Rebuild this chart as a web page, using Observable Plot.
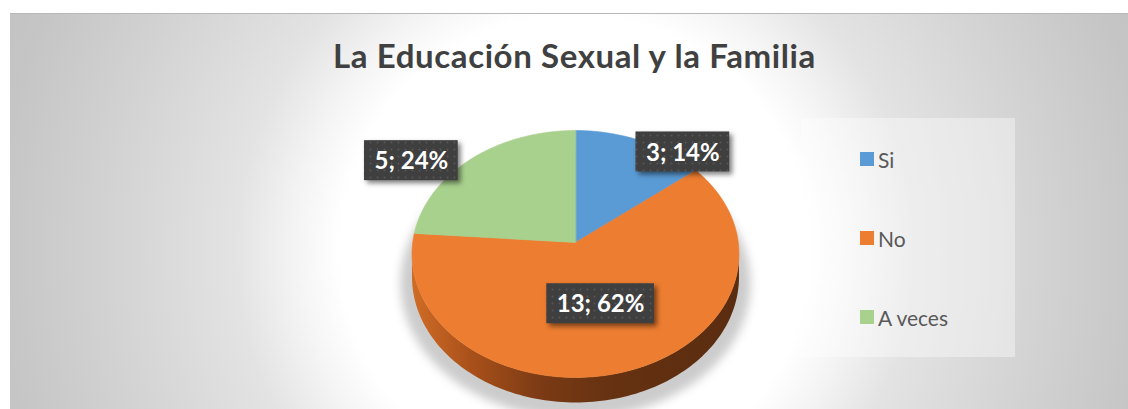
<!DOCTYPE html>
<html>
<head>
<meta charset="utf-8">
<script src="https://cdn.jsdelivr.net/npm/d3@7"></script>
<script src="https://cdn.jsdelivr.net/npm/@observablehq/plot@0.6"></script>
<style>
  html, body { margin: 0; padding: 0; background: #fff; }
  body { width: 1128px; height: 409px; overflow: hidden; position: relative; font-family: Lato, "Open Sans", sans-serif; }
  #chart {
    position: absolute; left: 10px; top: 13px; width: 1118px; height: 396px;
    background: radial-gradient(circle at 565px 237px, #ffffff 0px, #ffffff 235px, #f4f4f4 280px, #e3e3e3 340px, #d3d3d3 464px, #c5c5c5 580px, #bdbdbd 720px);
    box-shadow: inset 0 1px 0 #b8b8b8;
  }
  #chart svg { position: absolute; left: 0; top: 0; }
  #title {
    position: absolute; left: 0; width: 1149px; top: 39px; text-align: center;
    font-family: Lato, sans-serif; font-weight: bold; font-size: 33px; line-height: 33px;
    letter-spacing: 0.6px; color: #404040;
  }
  #legend {
    position: absolute; left: 801px; top: 118px; width: 214px; height: 239px;
    background: rgba(255,255,255,0.38);
  }
  .item { position: absolute; left: 59px; height: 24px; display: flex; align-items: center;
    font-family: Lato, sans-serif; font-size: 21px; color: #595959; }
  .sw { width: 14px; height: 14px; margin-right: 4px; }
</style>
</head>
<body>
<div id="chart"></div>
<div id="title">La Educación Sexual y la Familia</div>
<div id="legend"></div>
<script>
// ---- data ----
const categories = ["Si", "No", "A veces"];
const values = [3, 13, 5];
const colors = ["#5B9BD5", "#ED7D31", "#A9D18E"];
// label placement (best-fit style), separate from the data
const labelAngleShift = [16, 0, -13.6];
const labelRadius = [1.064, 0.5, 1.29];

// ---- geometry ----
const W = 1118, H = 396;
const CX = 565, CY = 229, R = 162.8, T = 0.752, K = 0.093, DEPTH = 22.7;
function proj(a, r, z) {
  const u = r * Math.sin(a), v = -r * Math.cos(a);
  const s = 1 / (1 - K * v);
  return { x: CX + R * u * s, y: CY + R * T * v * s + z * DEPTH * s };
}

const total = d3.sum(values);
const arcs = d3.pie().sort(null).value(d => d)(values);

const N = 90;
const slicePts = [];
arcs.forEach((arc, i) => {
  const c = proj(0, 0, 0);
  slicePts.push({ ...c, cat: categories[i] });
  const n = Math.max(4, Math.round(N * (arc.endAngle - arc.startAngle) / Math.PI));
  for (let j = 0; j <= n; j++) {
    const a = arc.startAngle + (arc.endAngle - arc.startAngle) * j / n;
    slicePts.push({ ...proj(a, 1, 0), cat: categories[i] });
  }
});

// visible side wall (front half between silhouette angles)
const aS = Math.acos(-K), aE = 2 * Math.PI - aS;
const sidePts = [];
for (let j = 0; j <= 120; j++) { const a = aS + (aE - aS) * j / 120; sidePts.push(proj(a, 1, 0)); }
for (let j = 120; j >= 0; j--) { const a = aS + (aE - aS) * j / 120; sidePts.push(proj(a, 1, 1)); }

// soft shadow under the pie
const shadowPts = [];
for (let j = 0; j < 180; j++) {
  const a = 2 * Math.PI * j / 180;
  const p = proj(a, 1.07, 1.0);
  shadowPts.push({ x: p.x, y: p.y + 5 });
}

// labels
const ctx = document.createElement("canvas").getContext("2d");
const LFS = 24;
ctx.font = `bold ${LFS}px Lato`;
const labels = arcs.map((arc, i) => {
  const mid = (arc.startAngle + arc.endAngle) / 2 + labelAngleShift[i] * Math.PI / 180;
  const p = proj(mid, labelRadius[i], 0);
  const text = `${values[i]}; ${Math.round(values[i] / total * 100)}%`;
  const w = ctx.measureText(text).width + 20;
  const h = 40;
  return { x: p.x, y: p.y, text, x1: p.x - w / 2, x2: p.x + w / 2, y1: p.y - h / 2, y2: p.y + h / 2 };
});

const plot = Plot.plot({
  width: W, height: H, margin: 0,
  x: { domain: [0, W], range: [0, W], axis: null },
  y: { domain: [0, H], range: [0, H], axis: null },
  color: { domain: categories, range: colors },
  style: { background: "transparent", overflow: "visible" },
  marks: [
    Plot.line(shadowPts, { x: "x", y: "y", fill: "#000", fillOpacity: 0.2, stroke: "none", curve: "linear-closed", imageFilter: "blur(5px)" }),
    Plot.line(sidePts, { x: "x", y: "y", fill: "url(#sideGrad)", stroke: "none", curve: "linear-closed" }),
    Plot.line(slicePts, { x: "x", y: "y", z: "cat", fill: "cat", stroke: "cat", strokeWidth: 0.6, curve: "linear-closed" }),
    Plot.rect(labels, { x1: "x1", x2: "x2", y1: "y1", y2: "y2", fill: "url(#dots)", imageFilter: "drop-shadow(3px 3px 2.5px rgba(0,0,0,0.5))" }),
    Plot.text(labels, { x: "x", y: "y", text: "text", fill: "white", fontSize: LFS, fontWeight: "bold", fontFamily: "Lato", dy: 1 })
  ]
});

const svg = d3.select(plot);
const defs = svg.insert("defs", ":first-child");
const g = defs.append("linearGradient").attr("id", "sideGrad")
  .attr("gradientUnits", "userSpaceOnUse")
  .attr("x1", CX - R).attr("x2", CX + R).attr("y1", 0).attr("y2", 0);
[[0, "#cf6c26"], [0.18, "#a9501a"], [0.4, "#7a3a14"], [0.6, "#663211"], [1, "#5a2c10"]]
  .forEach(([o, c]) => g.append("stop").attr("offset", o).attr("stop-color", c));
const pat = defs.append("pattern").attr("id", "dots").attr("patternUnits", "userSpaceOnUse")
  .attr("width", 7).attr("height", 7);
pat.append("rect").attr("width", 7).attr("height", 7).attr("fill", "#3f3f3f");
pat.append("circle").attr("cx", 3.5).attr("cy", 3.5).attr("r", 1).attr("fill", "#565656");

document.getElementById("chart").appendChild(plot);

// legend
const legend = document.getElementById("legend");
const legendCenters = [41, 120, 199];
categories.forEach((c, i) => {
  const it = document.createElement("div");
  it.className = "item";
  it.style.top = (legendCenters[i] - 12) + "px";
  const sw = document.createElement("span");
  sw.className = "sw"; sw.style.background = colors[i];
  const tx = document.createElement("span");
  tx.textContent = c;
  it.appendChild(sw); it.appendChild(tx);
  legend.appendChild(it);
});
</script>
</body>
</html>
